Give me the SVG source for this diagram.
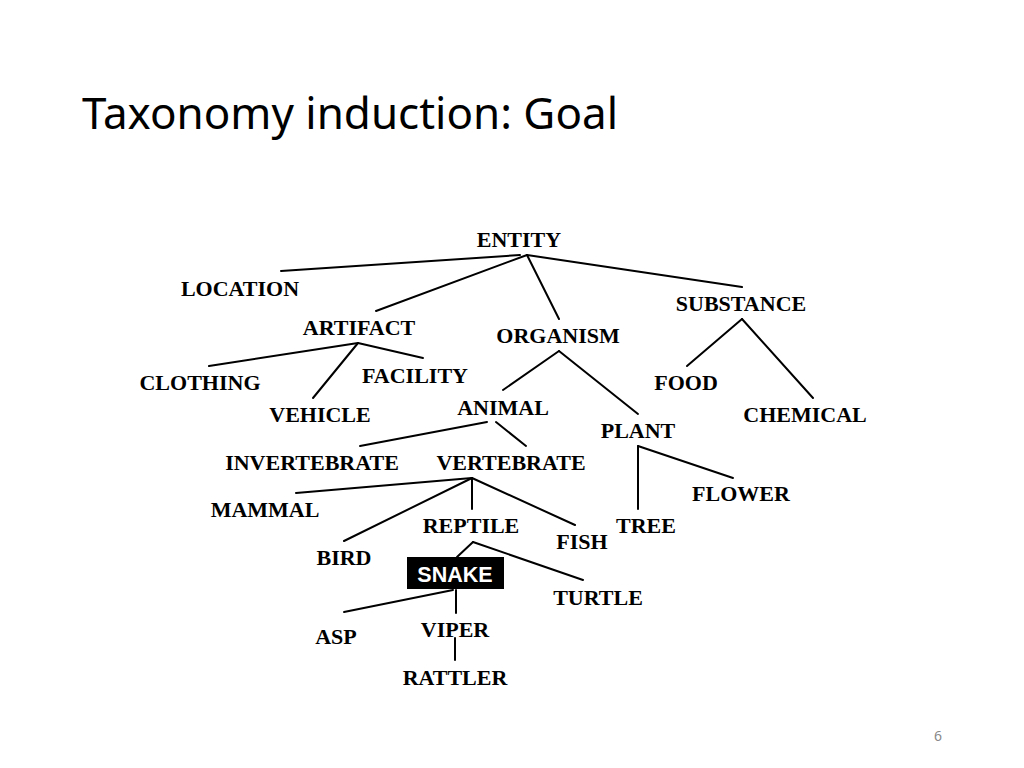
<svg xmlns="http://www.w3.org/2000/svg" width="1024" height="768" viewBox="0 0 1024 768">
<style>
.t{font-family:"Liberation Serif","Times New Roman",serif;font-weight:bold;font-size:22px;fill:#000;text-anchor:middle}
.c line{stroke:#000;stroke-width:2;stroke-linecap:round}
</style>
<rect width="1024" height="768" fill="#fff"/>
<text x="82" y="129" font-family="'Noto Sans','Open Sans',sans-serif" font-size="43" fill="#000" textLength="536" lengthAdjust="spacingAndGlyphs">Taxonomy induction: Goal</text>
<text x="938" y="741" font-family="'Noto Sans',sans-serif" font-size="14" fill="#888" text-anchor="middle">6</text>
<g class="c" id="connectors">
<line x1="520" y1="255" x2="281" y2="271"/>
<line x1="527" y1="255" x2="376" y2="311"/>
<line x1="527" y1="255" x2="559" y2="319"/>
<line x1="527" y1="255" x2="742" y2="287"/>
<line x1="358" y1="343" x2="209" y2="366"/>
<line x1="358" y1="343" x2="313" y2="398"/>
<line x1="358" y1="343" x2="423" y2="358"/>
<line x1="559" y1="351" x2="503" y2="390"/>
<line x1="559" y1="351" x2="638" y2="414"/>
<line x1="742" y1="319" x2="687" y2="366"/>
<line x1="742" y1="319" x2="813" y2="398"/>
<line x1="487" y1="422" x2="360" y2="446"/>
<line x1="496" y1="422" x2="526" y2="446"/>
<line x1="472" y1="478" x2="296" y2="493"/>
<line x1="472" y1="478" x2="344" y2="541"/>
<line x1="472" y1="478" x2="472" y2="509"/>
<line x1="472" y1="478" x2="575" y2="525"/>
<line x1="473" y1="542" x2="457" y2="557"/>
<line x1="473" y1="542" x2="583" y2="580"/>
<line x1="453" y1="590" x2="344" y2="612"/>
<line x1="456" y1="590" x2="456" y2="613"/>
<line x1="455" y1="638" x2="455" y2="660"/>
<line x1="638" y1="446" x2="638" y2="509"/>
<line x1="638" y1="446" x2="733" y2="478"/>
</g>
<g id="entity"><text class="t" x="519" y="247">ENTITY</text></g>
<g id="location"><text class="t" x="240" y="296">LOCATION</text></g>
<g id="artifact"><text class="t" x="359" y="335">ARTIFACT</text></g>
<g id="organism"><text class="t" x="558" y="343">ORGANISM</text></g>
<g id="substance"><text class="t" x="741" y="311">SUBSTANCE</text></g>
<g id="clothing"><text class="t" x="200" y="390">CLOTHING</text></g>
<g id="facility"><text class="t" x="415" y="383">FACILITY</text></g>
<g id="vehicle"><text class="t" x="320" y="422">VEHICLE</text></g>
<g id="animal"><text class="t" x="503" y="415">ANIMAL</text></g>
<g id="food"><text class="t" x="686" y="390">FOOD</text></g>
<g id="chemical"><text class="t" x="805" y="422">CHEMICAL</text></g>
<g id="plant"><text class="t" x="638" y="438">PLANT</text></g>
<g id="invertebrate"><text class="t" x="312" y="470">INVERTEBRATE</text></g>
<g id="vertebrate"><text class="t" x="511" y="470">VERTEBRATE</text></g>
<g id="flower"><text class="t" x="741" y="501">FLOWER</text></g>
<g id="mammal"><text class="t" x="265" y="517">MAMMAL</text></g>
<g id="reptile"><text class="t" x="471" y="533">REPTILE</text></g>
<g id="fish"><text class="t" x="582" y="549">FISH</text></g>
<g id="tree"><text class="t" x="646" y="533">TREE</text></g>
<g id="bird"><text class="t" x="344" y="565">BIRD</text></g>
<g id="snake"><rect x="407" y="557" width="97" height="32" fill="#000"/><text x="455" y="582" font-family="'Liberation Sans',Arial,sans-serif" font-weight="bold" font-size="21.5" fill="#fff" text-anchor="middle">SNAKE</text></g>
<g id="turtle"><text class="t" x="598" y="605">TURTLE</text></g>
<g id="asp"><text class="t" x="336" y="644">ASP</text></g>
<g id="viper"><text class="t" x="455" y="637">VIPER</text></g>
<g id="rattler"><text class="t" x="455" y="685">RATTLER</text></g>
</svg>
